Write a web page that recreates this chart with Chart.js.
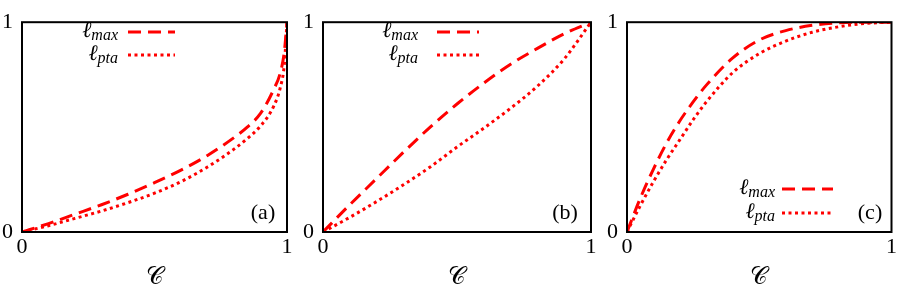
<!DOCTYPE html>
<html>
<head>
<meta charset="utf-8">
<script src="https://cdn.jsdelivr.net/npm/chart.js@4"></script>
<style>
  html, body { margin: 0; padding: 0; background: #fff; }
  #wrap { position: relative; width: 899px; height: 289px; }
  .panel { position: absolute; top: 0; height: 289px; }
</style>
</head>
<body>
<div id="wrap">
  <div class="panel" style="left:0;width:300px"><canvas id="chartA"></canvas></div>
  <div class="panel" style="left:300px;width:300px"><canvas id="chartB"></canvas></div>
  <div class="panel" style="left:600px;width:299px"><canvas id="chartC"></canvas></div>
</div>
<script>
// Panel (a)
const aC   = [0, 0.1, 0.2, 0.3, 0.4, 0.5, 0.6, 0.7, 0.8, 0.85, 0.9, 0.95, 0.975, 0.99, 1];
const aMax = [0, 0.04, 0.085, 0.13, 0.18, 0.235, 0.295, 0.365, 0.45, 0.5, 0.565, 0.68, 0.76, 0.86, 1];
const aPta = [0, 0.03, 0.065, 0.1, 0.14, 0.185, 0.24, 0.31, 0.395, 0.445, 0.505, 0.6, 0.69, 0.8, 1];

// Panel (b)
const bC   = [0, 0.1, 0.2, 0.3, 0.4, 0.5, 0.6, 0.7, 0.8, 0.9, 1];
const bMax = [0, 0.13, 0.255, 0.38, 0.5, 0.61, 0.71, 0.8, 0.875, 0.945, 1];
const bPta = [0, 0.07, 0.145, 0.225, 0.31, 0.405, 0.495, 0.59, 0.695, 0.825, 1];

// Panel (c)
const cC   = [0, 0.05, 0.1, 0.15, 0.2, 0.25, 0.3, 0.4, 0.5, 0.6, 0.7, 0.8, 0.9, 1];
const cMax = [0, 0.16, 0.3, 0.425, 0.53, 0.62, 0.7, 0.83, 0.915, 0.96, 0.985, 0.997, 1, 1];
const cPta = [0, 0.125, 0.24, 0.345, 0.44, 0.535, 0.62, 0.76, 0.85, 0.91, 0.952, 0.978, 0.994, 1];

const tickLabels = ['0', '1'];
const seriesNames = ['max', 'pta'];
const xTitle = '\u{1D49E}';

const RED = '#ff0000';
const SERIF = '"Liberation Serif", serif';

Chart.defaults.font.family = SERIF;
Chart.defaults.color = '#000';

// box around the plot area + legend + panel tag
const framePlugin = {
  id: 'frame',
  afterDatasetsDraw(chart, args, opts) {
    const { ctx, chartArea: a } = chart;
    ctx.save();
    ctx.strokeStyle = '#000';
    ctx.lineWidth = 2;
    ctx.strokeRect(a.left, a.top, a.right - a.left, a.bottom - a.top);

    // legend: l_sub + line sample
    chart.data.datasets.forEach((ds, i) => {
      const y = opts.legendY + i * opts.legendGap;
      ctx.fillStyle = '#000';
      ctx.textBaseline = 'alphabetic';
      ctx.textAlign = 'right';
      ctx.font = 'italic 16px ' + SERIF;
      ctx.fillText(seriesNames[i], opts.legendX, y + 8);
      const subW = ctx.measureText(seriesNames[i]).width;
      ctx.font = 'italic 22px ' + SERIF;
      ctx.fillText('\u2113', opts.legendX - subW, y + 5);

      ctx.strokeStyle = ds.borderColor;
      ctx.lineWidth = ds.borderWidth;
      ctx.setLineDash(ds.borderDash);
      ctx.beginPath();
      ctx.moveTo(opts.lineX, y);
      ctx.lineTo(opts.lineX + opts.lineLen, y);
      ctx.stroke();
      ctx.setLineDash([]);
    });

    ctx.fillStyle = '#000';
    ctx.font = '22px ' + SERIF;
    ctx.textAlign = 'center';
    ctx.textBaseline = 'middle';
    ctx.fillText(opts.tag, opts.tagX, opts.tagY);
    ctx.restore();
  }
};

function makePanel(id, xs, ysMax, ysPta, pad, frameOpts) {
  const toPts = ys => xs.map((x, i) => ({ x: x, y: ys[i] }));
  return new Chart(document.getElementById(id), {
    type: 'line',
    data: {
      datasets: [
        {
          label: 'l_max',
          data: toPts(ysMax),
          borderColor: RED,
          borderWidth: 3,
          borderDash: [13, 7],
          pointRadius: 0,
          cubicInterpolationMode: 'monotone',
          fill: false
        },
        {
          label: 'l_pta',
          data: toPts(ysPta),
          borderColor: RED,
          borderWidth: 3,
          borderDash: [3, 3.5],
          pointRadius: 0,
          cubicInterpolationMode: 'monotone',
          fill: false
        }
      ]
    },
    options: {
      responsive: true,
      maintainAspectRatio: false,
      animation: false,
      layout: { padding: { left: 0, right: pad.right, top: 10, bottom: 0 } },
      plugins: {
        legend: { display: false },
        tooltip: { enabled: false },
        frame: frameOpts
      },
      scales: {
        x: {
          type: 'linear',
          min: 0,
          max: 1,
          grid: { display: false, drawTicks: false },
          border: { display: false },
          afterBuildTicks: s => { s.ticks = [{ value: 0 }, { value: 1 }]; },
          ticks: {
            padding: 2,
            font: { size: 22 },
            callback: (v, i) => tickLabels[i]
          },
          title: {
            display: true,
            text: xTitle,
            font: { size: 24, lineHeight: 0.9 },
            padding: { top: 0, bottom: 0 }
          },
          afterFit: s => { s.height = 57; }
        },
        y: {
          min: 0,
          max: 1,
          grid: { display: false, drawTicks: false },
          border: { display: false },
          afterBuildTicks: s => { s.ticks = [{ value: 0 }, { value: 1 }]; },
          ticks: {
            padding: 9,
            font: { size: 22 },
            callback: (v, i) => tickLabels[i]
          },
          afterFit: s => { s.width = pad.left; }
        }
      }
    },
    plugins: [framePlugin]
  });
}

makePanel('chartA', aC, aMax, aPta, { left: 22, right: 13 },
  { legendX: 118, legendY: 32, legendGap: 23, lineX: 128, lineLen: 47, tag: '(a)', tagX: 263, tagY: 213 });
makePanel('chartB', bC, bMax, bPta, { left: 23, right: 9 },
  { legendX: 118, legendY: 32, legendGap: 23, lineX: 137, lineLen: 42, tag: '(b)', tagX: 265, tagY: 213 });
makePanel('chartC', cC, cMax, cPta, { left: 27, right: 7 },
  { legendX: 175, legendY: 189, legendGap: 24, lineX: 182, lineLen: 51, tag: '(c)', tagX: 270, tagY: 213 });
</script>
</body>
</html>
